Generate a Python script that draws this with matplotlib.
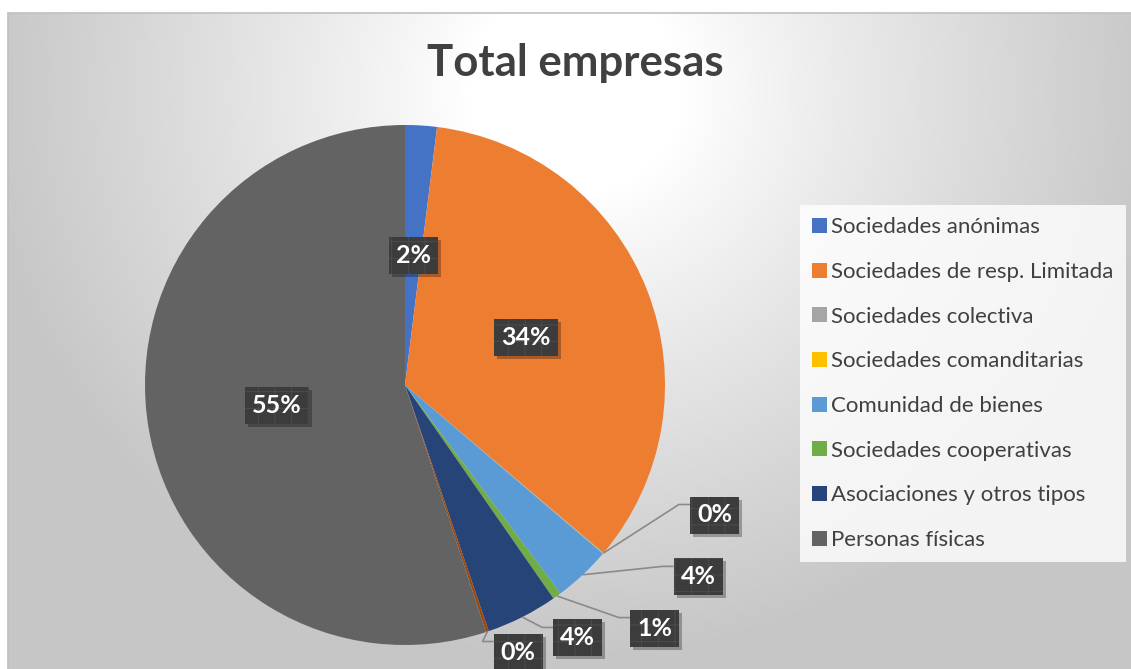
import numpy as np
import matplotlib
matplotlib.use("Agg")
import matplotlib.pyplot as plt
from matplotlib.patches import Rectangle
import matplotlib.transforms as mtransforms

# ---------------- data ----------------
categories = ["Sociedades anónimas", "Sociedades de resp. Limitada", "Sociedades colectiva",
              "Sociedades comanditarias", "Comunidad de bienes", "Sociedades cooperativas",
              "Asociaciones y otros tipos", "Otros", "Personas físicas"]
shares = [1.97, 34.2, 0.05, 0.02, 3.56, 0.53, 4.45, 0.18, 55.04]
colors = ["#4472C4", "#ED7D31", "#A5A5A5", "#FFC000", "#5B9BD5",
          "#70AD47", "#264478", "#9E480E", "#636363"]
legend_items = [0, 1, 2, 3, 4, 5, 6, 8]
inside_labels = [0, 1, 8]
outside_labels = [2, 4, 5, 6, 7]
# label box centres for outside labels (in pie-radius units from centre)
outside_pos = {2: (1.19, -0.50), 4: (1.127, -0.738), 5: (0.96, -0.935),
               6: (0.665, -0.973), 7: (0.435, -1.027)}

W, H = 1131, 669
plt.rcParams["font.family"] = ["Lato", "DejaVu Sans"]
plt.rcParams["hatch.linewidth"] = 0.6

fig = plt.figure(figsize=(W / 100, H / 100), dpi=100)
ax = fig.add_axes([0, 0, 1, 1])
ax.set_xlim(0, W)
ax.set_ylim(0, H)
ax.axis("off")

# background radial gradient (chart area)
yy, xx = np.mgrid[0:H, 0:W]
d = np.hypot(xx - 575, (yy - 90) * 1.05)
v = 255 - 57 * np.clip((d - 110) / (600 - 110), 0, 1) ** 0.9
img = np.dstack([v, v, v]) / 255.0
mask = (xx < 8) | (yy < 13)
img[mask] = 1.0
ax.imshow(img, extent=(0, W, 0, H), origin="upper", zorder=0, interpolation="bilinear")
ax.add_patch(Rectangle((8, -5), W, H - 13 + 5, fill=False, edgecolor="#c0c0c0", lw=1.2, zorder=1))

cx, cy, R = 405, H - 385, 260
wedges, _ = ax.pie(shares, colors=colors, startangle=90, counterclock=False,
                   center=(cx, cy), radius=R, wedgeprops=dict(linewidth=0), frame=True)
ax.set_xlim(0, W)
ax.set_ylim(0, H)
ax.set_aspect("equal")
ax.axis("off")

# mid angles
cum = np.cumsum([0] + shares[:-1])
total = sum(shares)
mids = [(c + s / 2) / total * 360 for c, s in zip(cum, shares)]  # degrees clockwise from north

def label_text(i):
    return f"{round(shares[i] / total * 100)}%"

FS = 18
box_kw = dict(boxstyle="square,pad=0.28", facecolor="#3c3c3c", edgecolor="#4e4e4e",
              linewidth=0, hatch="+")
shadow_kw = dict(boxstyle="square,pad=0.28", facecolor="#000000", edgecolor="none", alpha=0.28)
shadow_tr = mtransforms.offset_copy(ax.transData, fig=fig, x=3, y=-3, units="dots")

texts = {}
def put_label(i, x, y):
    ax.text(x, y, label_text(i), ha="center", va="center", fontsize=FS, weight="bold",
            color=(0, 0, 0, 0), bbox=shadow_kw, zorder=4, transform=shadow_tr)
    t = ax.text(x, y, label_text(i), ha="center", va="center", fontsize=FS, weight="bold",
                color="white", bbox=box_kw, zorder=5)
    texts[i] = t

for i in inside_labels:
    a = np.deg2rad(mids[i])
    put_label(i, cx + 0.5 * R * np.sin(a), cy + 0.5 * R * np.cos(a))

for i in outside_labels:
    ox, oy = outside_pos[i]
    put_label(i, cx + ox * R, cy + oy * R)

fig.canvas.draw()
inv = ax.transData.inverted()
for i in outside_labels:
    bb = texts[i].get_bbox_patch().get_window_extent()
    (x0, y0), (x1, y1) = inv.transform([[bb.x0, bb.y0], [bb.x1, bb.y1]])
    a = np.deg2rad(mids[i])
    sx, sy = cx + R * np.sin(a), cy + R * np.cos(a)
    ey = y1 - 8
    ax.plot([sx, x0 - 11, x0], [sy, ey, ey], color="#8a8a8a", lw=1.2, zorder=3,
            solid_capstyle="butt")

# title
fig.text(575 / W, 1 - 63 / H, "Total empresas", ha="center", va="center",
         fontsize=31.5, weight="bold", color="#404040")

# legend
leg = ax.legend([wedges[i] for i in legend_items], [categories[i] for i in legend_items],
                loc="upper left", bbox_to_anchor=(800 / W, 1 - 205 / H),
                bbox_transform=fig.transFigure, borderaxespad=0, fontsize=16,
                handlelength=0.65, handleheight=0.65, handletextpad=0.2,
                labelspacing=1.11, borderpad=0.55, frameon=True, fancybox=False)
fr = leg.get_frame()
fr.set_facecolor((1, 1, 1, 0.16))
fr.set_edgecolor("none")
for t in leg.get_texts():
    t.set_color("#404040")

fig.savefig("out.png", dpi=100)
